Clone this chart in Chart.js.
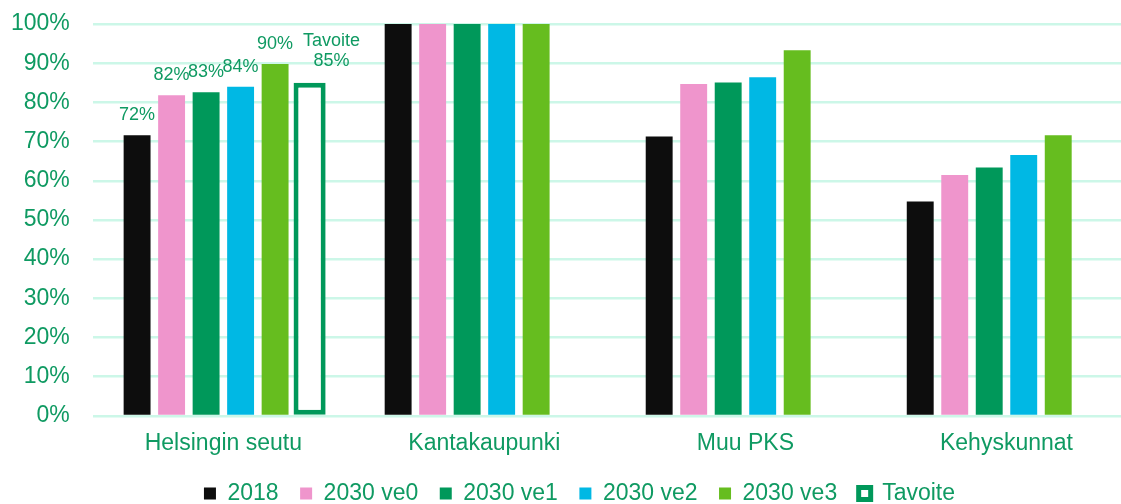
<!DOCTYPE html>
<html>
<head>
<meta charset="utf-8">
<script src="https://cdn.jsdelivr.net/npm/chart.js@4"></script>
<style>
  html, body { margin: 0; padding: 0; background: #fff; overflow: hidden; }
  #wrap { width: 1137px; height: 526px; }
</style>
</head>
<body>
<div id="wrap"><canvas id="chart"></canvas></div>
<script>
// Data
var categories = ['Helsingin seutu', 'Kantakaupunki', 'Muu PKS', 'Kehyskunnat'];
var v2018 = [71.6, 100, 71.3, 54.7];
var v2030ve0 = [81.8, 100, 84.7, 61.5];
var v2030ve1 = [82.6, 100, 85.1, 63.4];
var v2030ve2 = [84.0, 100, 86.4, 66.6];
var v2030ve3 = [89.8, 100, 93.3, 71.6];
var tavoite = [85, null, null, null];
var yTicks = [0, 10, 20, 30, 40, 50, 60, 70, 80, 90, 100];

var textGreen = '#0f9a62';
var font = 'Liberation Sans, Arial, sans-serif';

// Value labels, only for the first group
var valueLabels = {
    id: 'valueLabels',
    afterDatasetsDraw: function(chart) {
        var ctx = chart.ctx;
        ctx.save();
        ctx.fillStyle = textGreen;
        ctx.font = '18px ' + font;
        ctx.textAlign = 'center';
        ctx.textBaseline = 'middle';
        chart.data.datasets.forEach(function(ds, i) {
            var bar = chart.getDatasetMeta(i).data[0];
            var v = ds.data[0];
            if (v == null) return;
            var y = chart.scales.y.getPixelForValue(v);
            if (ds.label === 'Tavoite') {
                // target label sits a bit to the right
                ctx.fillText(ds.label, bar.x + 22, y - 42);
                ctx.fillText(Math.round(v) + '%', bar.x + 22, y - 22);
            } else {
                ctx.fillText(Math.round(v) + '%', bar.x, y - 20);
            }
        });
        ctx.restore();
    }
};

// Nudge the legend up and right a bit
var legendShift = {
    id: 'legendShift',
    afterLayout: function(chart) {
        var lg = chart.legend;
        lg.top -= 11;
        lg.bottom -= 11;
        lg.left += 17;
        lg.right += 17;
    }
};

var ctx = document.getElementById('chart');

var chart = new Chart(ctx, {
    type: 'bar',
    data: {
        labels: categories,
        datasets: [
            { label: '2018', data: v2018, backgroundColor: '#0d0d0d' },
            { label: '2030 ve0', data: v2030ve0, backgroundColor: '#ef95cc' },
            { label: '2030 ve1', data: v2030ve1, backgroundColor: '#00985a' },
            { label: '2030 ve2', data: v2030ve2, backgroundColor: '#00b8e4' },
            { label: '2030 ve3', data: v2030ve3, backgroundColor: '#66bd1f' },
            {
                label: 'Tavoite',
                data: tavoite,
                backgroundColor: '#ffffff',
                borderColor: '#00985a',
                borderWidth: 5,
                borderSkipped: false,
                barPercentage: 0.93
            }
        ]
    },
    options: {
        responsive: true,
        maintainAspectRatio: false,
        animation: false,
        datasets: {
            bar: { categoryPercentage: 0.793, barPercentage: 0.78 }
        },
        layout: { padding: { top: 0, left: -12, right: 0, bottom: 0 } },
        plugins: {
            legend: {
                position: 'bottom',
                labels: {
                    color: textGreen,
                    font: { family: font, size: 23 },
                    boxWidth: 12,
                    boxHeight: 12,
                    padding: 21.5
                }
            },
            tooltip: { enabled: false }
        },
        scales: {
            x: {
                grid: { display: false, drawTicks: false },
                border: { display: false },
                ticks: { color: textGreen, font: { family: font, size: 23 }, padding: 14 }
            },
            y: {
                min: 0,
                max: 100,
                afterBuildTicks: function(axis) {
                    axis.ticks = yTicks.map(function(v) { return { value: v }; });
                },
                afterFit: function(axis) { axis.paddingTop = 24; },
                grid: { color: '#ccf7e8', lineWidth: 2.5, drawTicks: false },
                border: { display: false },
                ticks: {
                    color: textGreen,
                    font: { family: font, size: 23 },
                    padding: 23,
                    callback: function(v) { return v + '%'; }
                }
            }
        }
    },
    plugins: [valueLabels, legendShift]
});
</script>
</body>
</html>
